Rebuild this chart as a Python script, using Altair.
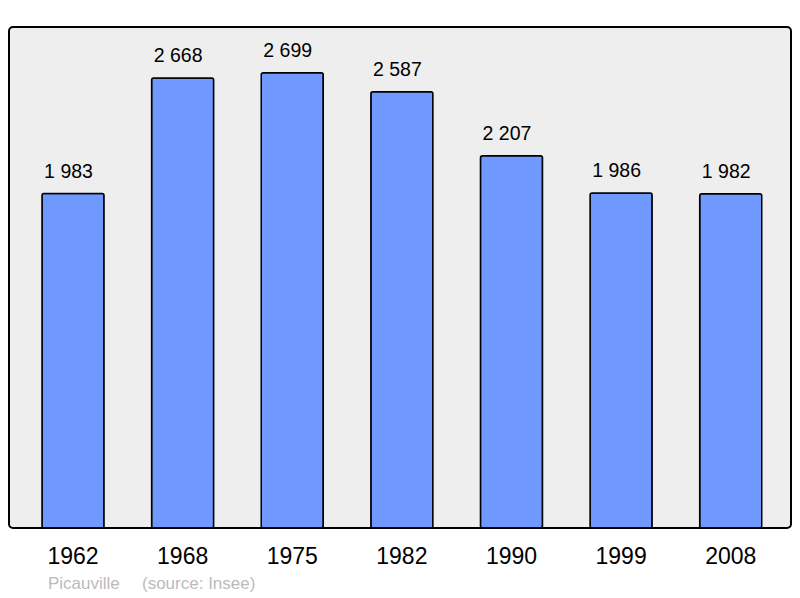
import altair as alt
import pandas as pd

years = ["1962", "1968", "1975", "1982", "1990", "1999", "2008"]
population = [1983, 2668, 2699, 2587, 2207, 1986, 1982]
town = "Picauville"
source = "(source: Insee)"

df = pd.DataFrame({"year": years, "pop": population})
df["label"] = [f"{v:,}".replace(",", " ") for v in population]

x = alt.X("year:N", sort=None,
          scale=alt.Scale(paddingInner=0.434, paddingOuter=0.284, align=0.53),
          axis=alt.Axis(title=None, labelAngle=0, ticks=False, domain=False,
                        labelFontSize=23, labelColor="#000000", labelPadding=17,
                        labelFont="Liberation Sans", grid=False))
y = alt.Y("pop:Q", scale=alt.Scale(domain=[0, 2971], nice=False, zero=True),
          axis=None)

bars = alt.Chart(df).mark_bar(color="#7099ff", stroke="#000000", strokeWidth=1.5,
                              cornerRadius=2).encode(x=x, y=y)

labels = alt.Chart(df).mark_text(dy=-16, dx=-4.5, baseline="alphabetic", fontSize=19.5,
                                 font="Liberation Sans", color="#000000").encode(
    x=x, y=y, text="label:N")

foot1 = alt.Chart(pd.DataFrame({"t": [town]})).mark_text(
    align="left", baseline="middle", fontSize=17, font="Liberation Sans",
    color="#bbbbbb").encode(x=alt.value(39), y=alt.value(557), text="t:N")
foot2 = alt.Chart(pd.DataFrame({"t": [source]})).mark_text(
    align="left", baseline="middle", fontSize=17, font="Liberation Sans",
    color="#bbbbbb").encode(x=alt.value(133), y=alt.value(557), text="t:N")

chart = alt.layer(bars, labels, foot1, foot2).properties(
    width=782, height=501,
    autosize=alt.AutoSizeParams(type="none"),
    padding={"left": 1, "top": 19, "right": 1, "bottom": 70},
    background="#ffffff",
).configure_view(fill="#eeeeee", stroke="#000000", strokeWidth=2, cornerRadius=4)

chart.save("out.html", embed_options={"renderer": "svg", "actions": False})
